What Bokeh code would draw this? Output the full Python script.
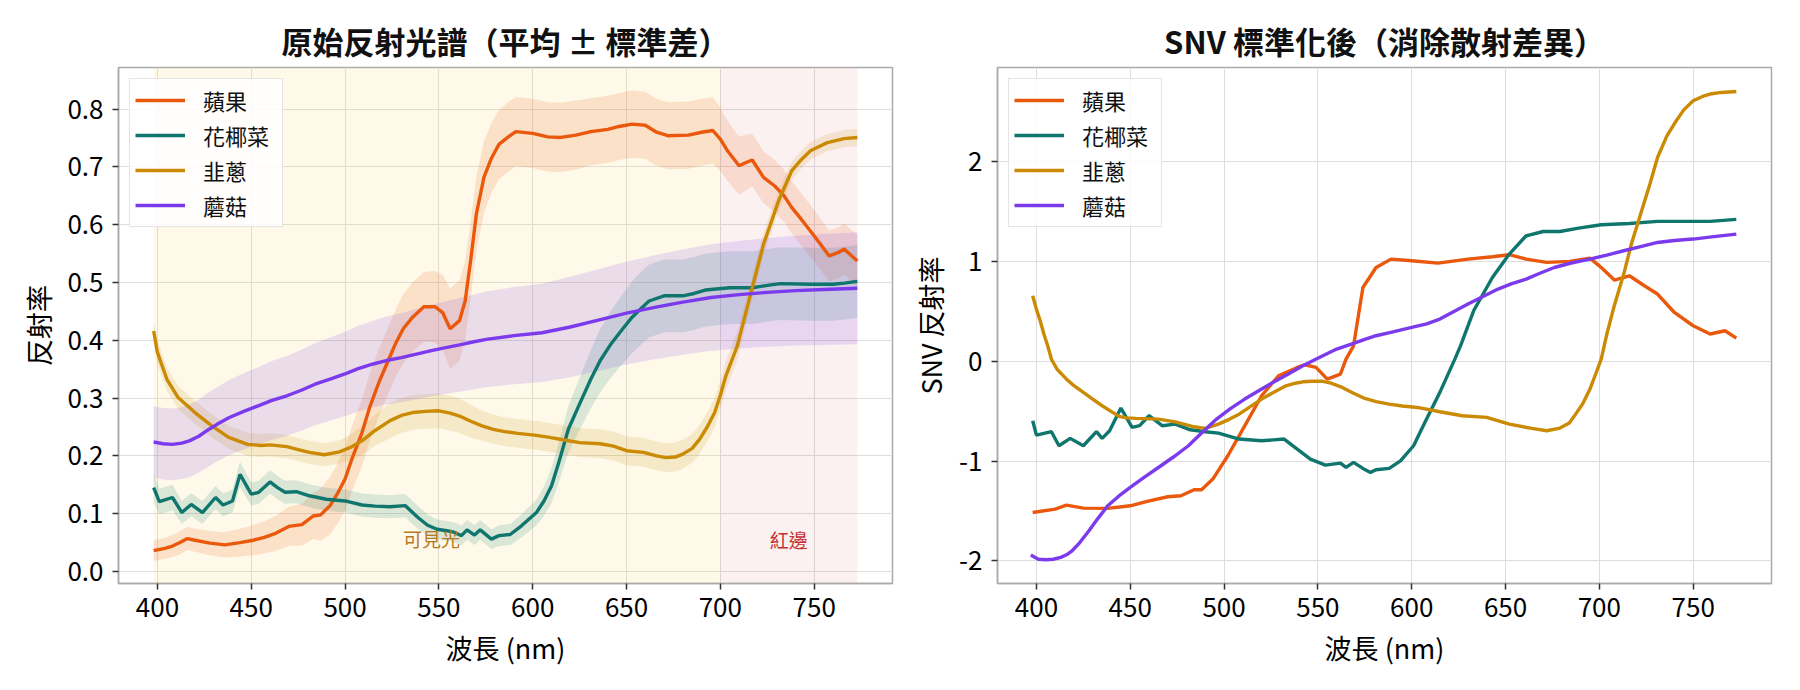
from bokeh.plotting import figure
from bokeh.models import (ColumnDataSource, Range1d, FixedTicker, BoxAnnotation, Label,
                          NumeralTickFormatter)
from bokeh.layouts import row
from bokeh.embed import file_html
from bokeh.resources import INLINE

FONT = "Noto Sans CJK TC"

# ---------------- data ----------------
names = ["蘋果", "花椰菜", "韭蔥", "蘑菇"]
colors = ["#ea580c", "#0f766e", "#ca8a04", "#7c3aed"]

apple_wl = [398, 404, 408, 412, 416, 420, 428, 436, 444, 451, 457, 463, 470, 477, 483, 487, 492, 496,
            500, 504, 509, 513, 518, 523, 527, 531, 536, 542, 548, 552, 556, 561, 564, 567, 570, 574,
            578, 582, 587, 591, 600, 608, 615, 623, 631, 640, 646, 653, 660, 666, 672, 683, 690, 696,
            700, 704, 710, 714, 717, 723, 729, 734, 738, 743, 748, 753, 758, 763, 766, 773]
apple_mean = [0.036, 0.040, 0.044, 0.050, 0.057, 0.054, 0.049, 0.046, 0.050, 0.054, 0.059, 0.066,
              0.078, 0.081, 0.096, 0.098, 0.114, 0.135, 0.160, 0.198, 0.240, 0.283, 0.327, 0.365,
              0.395, 0.420, 0.440, 0.458, 0.458, 0.448, 0.420, 0.434, 0.468, 0.540, 0.619, 0.682,
              0.715, 0.739, 0.752, 0.761, 0.758, 0.752, 0.751, 0.755, 0.761, 0.765, 0.770, 0.774,
              0.772, 0.760, 0.754, 0.755, 0.760, 0.763, 0.748, 0.727, 0.702, 0.708, 0.712, 0.682,
              0.667, 0.650, 0.630, 0.610, 0.589, 0.568, 0.546, 0.552, 0.558, 0.537]
apple_std = [0.018, 0.018, 0.019, 0.020, 0.020, 0.020, 0.021, 0.022, 0.024, 0.026, 0.028, 0.030,
             0.034, 0.036, 0.040, 0.045, 0.050, 0.052, 0.055, 0.056, 0.058, 0.058, 0.058, 0.058,
             0.058, 0.060, 0.060, 0.060, 0.062, 0.065, 0.070, 0.070, 0.068, 0.066, 0.064, 0.062,
             0.060, 0.060, 0.060, 0.060, 0.060, 0.060, 0.060, 0.060, 0.058, 0.058, 0.058, 0.058,
             0.058, 0.058, 0.058, 0.058, 0.058, 0.057, 0.055, 0.052, 0.050, 0.048, 0.046, 0.045,
             0.045, 0.045, 0.045, 0.045, 0.045, 0.044, 0.044, 0.044, 0.044, 0.045]

cauli_wl = [398, 401, 408, 413, 418, 424, 431, 435, 440, 444, 450, 454, 460, 464, 468, 474, 481, 490,
            500, 509, 516, 524, 532, 539, 544, 549, 555, 558, 562, 565, 569, 572, 578, 582, 588, 594,
            602, 606, 610, 614, 619, 625, 631, 636, 642, 648, 653, 658, 662, 670, 680, 686, 692, 705,
            717, 725, 732, 748, 760, 766, 773]
cauli_mean = [0.145, 0.121, 0.128, 0.102, 0.116, 0.102, 0.128, 0.115, 0.122, 0.168, 0.134, 0.137,
              0.155, 0.145, 0.137, 0.138, 0.131, 0.125, 0.122, 0.115, 0.113, 0.112, 0.114, 0.093,
              0.080, 0.073, 0.070, 0.068, 0.062, 0.072, 0.063, 0.072, 0.056, 0.062, 0.064, 0.079,
              0.102, 0.122, 0.148, 0.190, 0.246, 0.290, 0.333, 0.365, 0.395, 0.420, 0.440, 0.456,
              0.468, 0.477, 0.477, 0.481, 0.487, 0.491, 0.491, 0.495, 0.498, 0.497, 0.497, 0.499, 0.502]
cauli_std = [0.025, 0.022, 0.022, 0.020, 0.020, 0.020, 0.020, 0.020, 0.020, 0.022, 0.020, 0.020,
             0.020, 0.020, 0.020, 0.020, 0.020, 0.020, 0.020, 0.020, 0.020, 0.020, 0.020, 0.020,
             0.018, 0.017, 0.017, 0.017, 0.017, 0.017, 0.017, 0.017, 0.017, 0.018, 0.018, 0.020,
             0.022, 0.025, 0.030, 0.035, 0.040, 0.045, 0.050, 0.055, 0.058, 0.060, 0.062, 0.063,
             0.063, 0.063, 0.063, 0.063, 0.063, 0.063, 0.063, 0.063, 0.063, 0.063, 0.063, 0.063, 0.063]

leek_wl = [398, 400, 405, 411, 420, 429, 438, 448, 455, 460, 469, 475, 481, 489, 497, 503, 509, 516,
           524, 530, 536, 543, 550, 556, 561, 567, 573, 579, 585, 592, 601, 609, 616, 625, 636, 643,
           650, 659, 666, 671, 676, 680, 685, 689, 693, 697, 700, 703, 709, 713, 717, 723, 731, 738,
           743, 748, 757, 766, 773]
leek_mean = [0.416, 0.379, 0.333, 0.301, 0.275, 0.252, 0.232, 0.220, 0.218, 0.219, 0.216, 0.211,
             0.206, 0.202, 0.207, 0.215, 0.226, 0.244, 0.261, 0.270, 0.275, 0.277, 0.278, 0.274,
             0.269, 0.260, 0.252, 0.246, 0.242, 0.239, 0.236, 0.232, 0.228, 0.223, 0.221, 0.217,
             0.209, 0.206, 0.200, 0.197, 0.198, 0.203, 0.213, 0.229, 0.250, 0.275, 0.305, 0.339,
             0.390, 0.440, 0.491, 0.566, 0.641, 0.693, 0.712, 0.728, 0.742, 0.749, 0.751]
leek_std = [0.020, 0.020, 0.020, 0.020, 0.020, 0.020, 0.020, 0.020, 0.020, 0.020, 0.020, 0.020,
            0.020, 0.020, 0.020, 0.022, 0.025, 0.027, 0.030, 0.030, 0.030, 0.030, 0.030, 0.030,
            0.030, 0.028, 0.026, 0.025, 0.025, 0.025, 0.025, 0.025, 0.025, 0.025, 0.025, 0.025,
            0.025, 0.025, 0.025, 0.025, 0.025, 0.025, 0.025, 0.025, 0.025, 0.025, 0.025, 0.025,
            0.025, 0.022, 0.020, 0.020, 0.018, 0.016, 0.015, 0.015, 0.015, 0.015, 0.015]

mush_wl = [398, 403, 408, 413, 417, 422, 426, 432, 438, 446, 454, 461, 469, 477, 484, 492, 500, 507,
           515, 522, 530, 538, 546, 553, 561, 568, 576, 590, 605, 620, 635, 650, 665, 680, 695, 710,
           725, 740, 755, 773]
mush_mean = [0.224, 0.221, 0.220, 0.222, 0.226, 0.234, 0.243, 0.255, 0.266, 0.277, 0.287, 0.296,
             0.304, 0.314, 0.324, 0.333, 0.342, 0.351, 0.359, 0.365, 0.370, 0.376, 0.382, 0.387,
             0.392, 0.397, 0.402, 0.408, 0.413, 0.423, 0.435, 0.447, 0.457, 0.466, 0.474, 0.479,
             0.483, 0.486, 0.488, 0.490]
mush_std = [0.062, 0.062, 0.062, 0.062, 0.063, 0.063, 0.064, 0.064, 0.065, 0.066, 0.067, 0.068,
            0.069, 0.070, 0.071, 0.072, 0.073, 0.074, 0.075, 0.076, 0.077, 0.078, 0.079, 0.080,
            0.081, 0.082, 0.083, 0.084, 0.085, 0.087, 0.088, 0.089, 0.090, 0.091, 0.092, 0.093,
            0.094, 0.095, 0.096, 0.097]

# SNV-normalised mean spectra
apple_snv_wl = [398, 410, 416, 425, 438, 450, 459, 470, 477, 484, 488, 494, 502, 511, 520, 529, 539,
                543, 549, 555, 562, 565, 569, 574, 581, 589, 600, 614, 630, 643, 652, 661, 672, 684,
                695, 701, 708, 716, 724, 731, 740, 750, 759, 767, 773]
apple_snv = [-1.516, -1.482, -1.442, -1.472, -1.475, -1.449, -1.405, -1.358, -1.348, -1.288, -1.288,
             -1.181, -0.947, -0.647, -0.346, -0.145, -0.062, -0.035, -0.062, -0.179, -0.129, 0.021,
             0.155, 0.740, 0.940, 1.024, 1.007, 0.984, 1.024, 1.048, 1.068, 1.024, 0.991, 1.001,
             1.034, 0.940, 0.814, 0.857, 0.757, 0.674, 0.489, 0.356, 0.273, 0.306, 0.232]

cauli_snv_wl = [398, 400, 408, 412, 418, 425, 432, 435, 439, 445, 451, 455, 460, 467, 474, 482, 490,
                497, 508, 520, 532, 539, 546, 554, 562, 565, 569, 574, 578, 581, 588, 594, 601, 607,
                615, 623, 626, 633, 643, 652, 661, 670, 679, 689, 701, 716, 731, 747, 759, 773]
cauli_snv = [-0.596, -0.740, -0.706, -0.847, -0.773, -0.847, -0.706, -0.773, -0.697, -0.469, -0.663,
             -0.646, -0.546, -0.646, -0.630, -0.687, -0.707, -0.720, -0.780, -0.797, -0.780, -0.880,
             -0.981, -1.041, -1.021, -1.064, -1.014, -1.074, -1.114, -1.087, -1.074, -0.998, -0.847,
             -0.613, -0.312, 0.021, 0.155, 0.506, 0.840, 1.075, 1.258, 1.301, 1.301, 1.335, 1.368,
             1.381, 1.402, 1.402, 1.402, 1.422]

leek_snv_wl = [398, 400, 402, 404, 406, 408, 411, 416, 420, 425, 430, 435, 440, 444, 448, 453, 465,
               474, 484, 490, 497, 503, 508, 514, 520, 527, 533, 538, 542, 547, 552, 557, 563, 569,
               575, 581, 588, 595, 603, 615, 627, 640, 652, 664, 672, 679, 684, 687, 691, 695, 698,
               701, 704, 708, 713, 717, 722, 727, 731, 736, 741, 745, 750, 755, 759, 765, 773]
leek_snv = [0.657, 0.520, 0.406, 0.270, 0.155, 0.020, -0.080, -0.179, -0.245, -0.313, -0.380,
            -0.446, -0.505, -0.553, -0.568, -0.573, -0.580, -0.607, -0.657, -0.673, -0.630, -0.580,
            -0.530, -0.455, -0.379, -0.305, -0.246, -0.220, -0.206, -0.200, -0.199, -0.220, -0.262,
            -0.320, -0.373, -0.405, -0.430, -0.448, -0.463, -0.506, -0.546, -0.563, -0.630, -0.673,
            -0.697, -0.670, -0.620, -0.540, -0.430, -0.279, -0.130, 0.021, 0.273, 0.560, 0.874,
            1.170, 1.476, 1.780, 2.043, 2.260, 2.411, 2.520, 2.612, 2.655, 2.679, 2.695, 2.705]

mush_snv_wl = [397, 401, 405, 409, 413, 416, 419, 423, 428, 433, 438, 444, 450, 457, 465, 473, 481,
               488, 496, 503, 511, 518, 526, 534, 542, 551, 560, 569, 575, 581, 590, 600, 608, 615,
               622, 630, 638, 646, 653, 661, 668, 676, 685, 695, 704, 713, 722, 731, 740, 750, 761, 773]
mush_snv = [-1.943, -1.985, -1.990, -1.985, -1.966, -1.940, -1.900, -1.820, -1.699, -1.570, -1.449,
            -1.350, -1.265, -1.170, -1.065, -0.960, -0.847, -0.720, -0.580, -0.480, -0.379, -0.300,
            -0.212, -0.130, -0.045, 0.040, 0.122, 0.180, 0.220, 0.256, 0.295, 0.339, 0.375, 0.423,
            0.495, 0.573, 0.650, 0.724, 0.775, 0.824, 0.880, 0.940, 0.985, 1.024, 1.065, 1.108,
            1.150, 1.191, 1.210, 1.225, 1.250, 1.275]

x_ticks = [400, 450, 500, 550, 600, 650, 700, 750]
raw_y_ticks = [0.0, 0.1, 0.2, 0.3, 0.4, 0.5, 0.6, 0.7, 0.8]
snv_y_ticks = [-2, -1, 0, 1, 2]

visible_end = 700
region_labels = ["可見光", "紅邊"]

raw_series = [(apple_wl, apple_mean, apple_std), (cauli_wl, cauli_mean, cauli_std),
              (leek_wl, leek_mean, leek_std), (mush_wl, mush_mean, mush_std)]
snv_series = [(apple_snv_wl, apple_snv), (cauli_snv_wl, cauli_snv),
              (leek_snv_wl, leek_snv), (mush_snv_wl, mush_snv)]

wl_min = min(apple_wl)
wl_max = max(apple_wl)
pad = (wl_max - wl_min) * 0.05


def style(p, title, ylabel, yticks, yfmt, title_size):
    p.title.text = title
    p.title.text_font = FONT
    p.title.text_font_size = title_size
    p.title.text_font_style = "bold"
    p.title.align = "center"
    p.title.text_color = "#111111"
    p.outline_line_color = "#aaaaaa"
    p.outline_line_width = 1.5
    for ax in (p.xaxis[0], p.yaxis[0]):
        ax.axis_line_color = "#aaaaaa"
        ax.axis_line_width = 1.5
        ax.major_tick_line_color = "#333333"
        ax.major_tick_line_width = 1.5
        ax.major_tick_out = 6
        ax.major_tick_in = 0
        ax.minor_tick_line_color = None
        ax.major_label_text_font = FONT
        ax.major_label_text_font_size = "26px"
        ax.major_label_text_color = "#000000"
        ax.axis_label_text_font = FONT
        ax.axis_label_text_font_size = "27px"
        ax.axis_label_text_font_style = "normal"
        ax.axis_label_text_color = "#000000"
    p.xaxis.ticker = FixedTicker(ticks=x_ticks)
    p.xaxis.major_label_standoff = 8
    p.xaxis.axis_label = "波長 (nm)"
    p.xaxis.axis_label_standoff = 8
    p.yaxis.ticker = FixedTicker(ticks=yticks)
    p.yaxis.formatter = NumeralTickFormatter(format=yfmt)
    p.yaxis.major_label_standoff = 9
    p.yaxis.axis_label = ylabel
    p.yaxis.axis_label_standoff = 6
    p.xgrid.ticker = FixedTicker(ticks=x_ticks)
    p.ygrid.ticker = FixedTicker(ticks=yticks)
    p.grid.grid_line_color = "#dddddd"
    p.grid.grid_line_width = 1
    p.background_fill_color = "white"
    p.border_fill_color = "white"


def style_legend(p):
    lg = p.legend[0]
    lg.location = "top_left"
    lg.margin = 11
    lg.padding = 5
    lg.spacing = 3
    lg.glyph_width = 50
    lg.glyph_height = 26
    lg.label_height = 26
    lg.label_width = 74
    lg.label_standoff = 18
    lg.label_text_font = FONT
    lg.label_text_font_size = "22px"
    lg.label_text_color = "#111111"
    lg.border_line_color = "#cccccc"
    lg.border_line_width = 1.5
    lg.background_fill_color = "white"
    lg.background_fill_alpha = 0.85


# ---------------- left: raw spectra ----------------
p1 = figure(width=900, height=690, output_backend="svg", toolbar_location=None,
            x_range=Range1d(wl_min - pad, wl_max + pad), y_range=Range1d(-0.0208, 0.872))
p1.frame_width = 774
p1.frame_height = 516
p1.min_border_left = 118
p1.min_border_right = 8
p1.min_border_top = 67
p1.min_border_bottom = 107
style(p1, "原始反射光譜（平均 ± 標準差）", "反射率", raw_y_ticks, "0.0", "31px")

p1.add_layout(BoxAnnotation(left=wl_min, right=visible_end, fill_color="#f5d76e", fill_alpha=0.15,
                            line_color=None, level="underlay"))
p1.add_layout(BoxAnnotation(left=visible_end, right=wl_max, fill_color="#e57373", fill_alpha=0.1,
                            line_color=None, level="underlay"))

for (wl, m, s), c in zip(raw_series, colors):
    src = ColumnDataSource(dict(x=wl, lo=[a - b for a, b in zip(m, s)], hi=[a + b for a, b in zip(m, s)]))
    p1.varea(x="x", y1="lo", y2="hi", source=src, fill_color=c, fill_alpha=0.15)
for (wl, m, s), c, n in zip(raw_series, colors, names):
    p1.line(wl, m, line_color=c, line_width=3.4, legend_label=n)

p1.add_layout(Label(x=546, y=0.057, text=region_labels[0], text_font=FONT, text_font_size="19px",
                    text_color="#b7791f", text_align="center", text_baseline="middle"))
p1.add_layout(Label(x=(visible_end + wl_max) / 2, y=0.055, text=region_labels[1], text_font=FONT,
                    text_font_size="19px", text_color="#c53030", text_align="center",
                    text_baseline="middle"))
style_legend(p1)

# ---------------- right: SNV ----------------
p2 = figure(width=900, height=690, output_backend="svg", toolbar_location=None,
            x_range=Range1d(wl_min - pad, wl_max + pad), y_range=Range1d(-2.228, 2.945))
p2.frame_width = 774
p2.frame_height = 516
p2.min_border_left = 97
p2.min_border_right = 29
p2.min_border_top = 67
p2.min_border_bottom = 107
style(p2, "SNV 標準化後（消除散射差異）", "SNV 反射率", snv_y_ticks, "0", "31px")
for (wl, v), c, n in zip(snv_series, colors, names):
    p2.line(wl, v, line_color=c, line_width=3.4, legend_label=n)
style_legend(p2)

layout = row(p1, p2)
open("out.html", "w").write(file_html(layout, INLINE))
